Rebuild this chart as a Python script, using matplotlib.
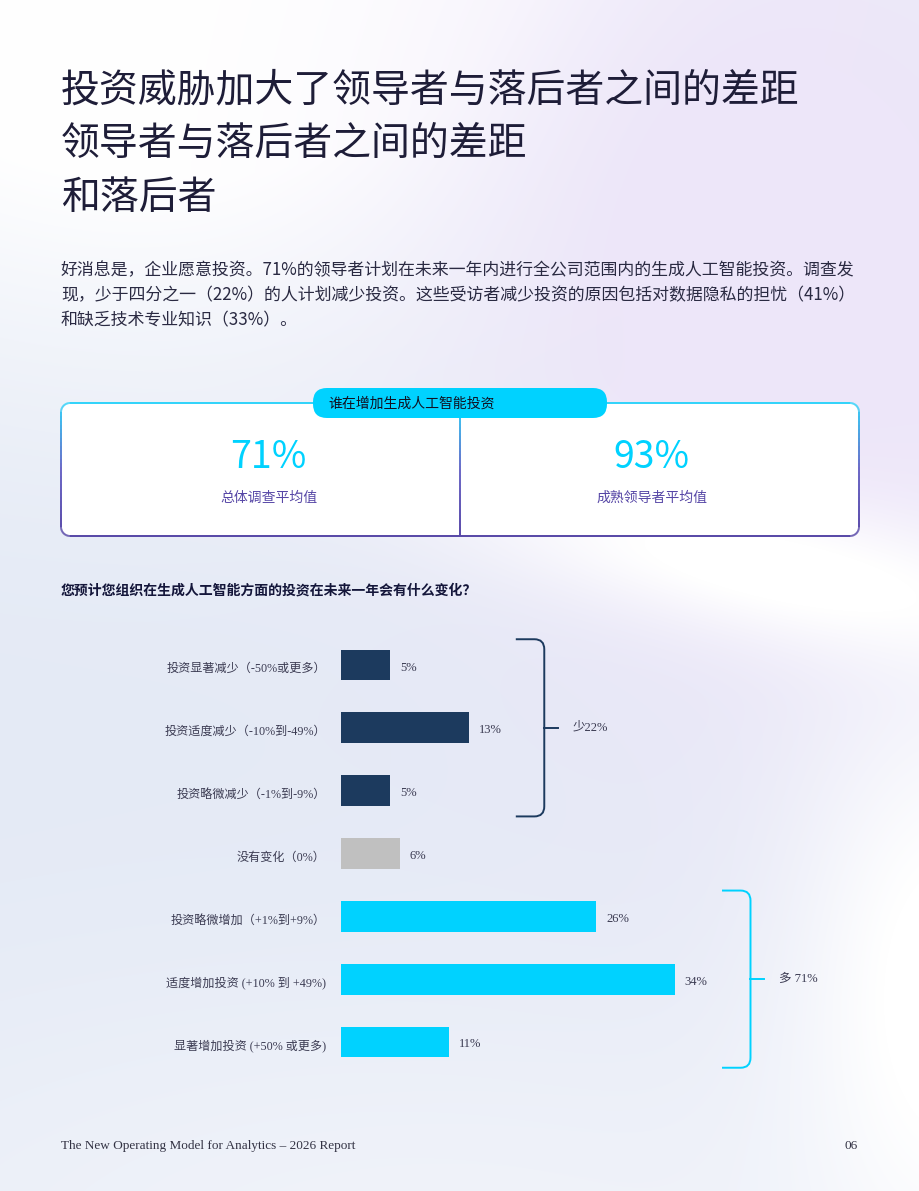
import numpy as np
import matplotlib.pyplot as plt
from matplotlib.patches import FancyBboxPatch, PathPatch
from matplotlib.path import Path
from matplotlib.collections import LineCollection
from matplotlib.colors import to_rgb, LinearSegmentedColormap

plt.rcParams['font.family'] = ['Liberation Serif', 'Noto Sans CJK SC', 'DejaVu Sans']
CJK = ['Noto Sans CJK SC', 'DejaVu Sans']

# ==========================================
# DATA
# ==========================================
TITLE_LINES = ["投资威胁加大了领导者与落后者之间的差距", "领导者与落后者之间的差距", "和落后者"]
BODY_LINES = [
    "好消息是，企业愿意投资。71%的领导者计划在未来一年内进行全公司范围内的生成人工智能投资。调查发",
    "现，少于四分之一（22%）的人计划减少投资。这些受访者减少投资的原因包括对数据隐私的担忧（41%）",
    "和缺乏技术专业知识（33%）。",
]
CARD_TITLE = "谁在增加生成人工智能投资"
CARD_VALUES = ["71%", "93%"]
CARD_LABELS = ["总体调查平均值", "成熟领导者平均值"]

QUESTION = "您预计您组织在生成人工智能方面的投资在未来一年会有什么变化？"
categories = [
    "投资显著减少（-50%或更多）",
    "投资适度减少（-10%到-49%）",
    "投资略微减少（-1%到-9%）",
    "没有变化（0%）",
    "投资略微增加（+1%到+9%）",
    "适度增加投资 (+10% 到 +49%)",
    "显著增加投资 (+50% 或更多)",
]
values = [5, 13, 5, 6, 26, 34, 11]
groups = ["down", "down", "down", "none", "up", "up", "up"]
bracket_labels = {"down": "少22%", "up": "多 71%"}

FOOTER = "The New Operating Model for Analytics – 2026 Report"
PAGE_NO = "06"

# ==========================================
# COLOURS
# ==========================================
NAVY = "#1c3a5e"
GREY = "#c0c0c0"
CYAN = "#00d2ff"
PURPLE = "#5646a6"
TEXT = "#1e1d38"
LABEL = "#3b3b52"
group_colors = {"down": NAVY, "none": GREY, "up": CYAN}

W, H = 920, 1191
fig = plt.figure(figsize=(W / 100, H / 100), dpi=100)

# page axes in pixel coordinates
page = fig.add_axes([0, 0, 1, 1])
page.set_xlim(0, W)
page.set_ylim(H, 0)
page.axis("off")

# soft gradient background
X, Y = np.meshgrid(np.arange(W), np.arange(H))


def blob(cx, cy, sx, sy, angle=0.0):
    a = np.deg2rad(angle)
    u = (X - cx) * np.cos(a) + (Y - cy) * np.sin(a)
    v = -(X - cx) * np.sin(a) + (Y - cy) * np.cos(a)
    return np.exp(-((u / sx) ** 2 + (v / sy) ** 2) / 2)


bg = np.ones((H, W, 3)) * np.array(to_rgb("#e3e9f5"))


def mix(col, w):
    global bg
    w = np.clip(w, 0, 1)[..., None]
    bg = bg * (1 - w) + np.array(to_rgb(col)) * w


mix("#f0f3fa", blob(450, 1250, 600, 220))
mix("#ffffff", 1.4 * blob(180, -60, 420, 290))
mix("#ede6f9", 1.3 * blob(790, 300, 230, 330))
mix("#ffffff", 1.2 * blob(780, 570, 230, 50, 12))
mix("#ffffff", 1.2 * blob(950, 1000, 110, 220))
page.imshow(bg, extent=[0, W, H, 0], zorder=0, aspect="auto")

# title and intro text
for i, line in enumerate(TITLE_LINES):
    page.text(61, 90 + i * 54, line, fontsize=28, color=TEXT, family=CJK,
              fontweight="light", va="center", ha="left", zorder=2)
for i, line in enumerate(BODY_LINES):
    page.text(61, 270 + i * 25, line, fontsize=12.2, color="#2a2a42", family=CJK,
              fontweight="light", va="center", ha="left", zorder=2)

# card with gradient border
cx0, cy0, cx1, cy1, rad = 61, 403, 859, 536, 9
page.add_patch(FancyBboxPatch((cx0, cy0), cx1 - cx0, cy1 - cy0,
                              boxstyle=f"round,pad=0,rounding_size={rad}",
                              facecolor="white", edgecolor="none", zorder=2))


def rounded_rect_pts(x0, y0, x1, y1, r, n=20):
    pts = []
    corners = [(x1 - r, y0 + r, -90, 0), (x1 - r, y1 - r, 0, 90),
               (x0 + r, y1 - r, 90, 180), (x0 + r, y0 + r, 180, 270)]
    for ccx, ccy, a0, a1 in corners:
        t = np.deg2rad(np.linspace(a0, a1, n))
        pts += list(zip(ccx + r * np.cos(t), ccy + r * np.sin(t)))
    pts.append(pts[0])
    return np.array(pts)


grad = LinearSegmentedColormap.from_list("card", ["#2fd3fa", "#6a66c6", PURPLE])
pts = rounded_rect_pts(cx0, cy0, cx1, cy1, rad)
dense = []
for p, q in zip(pts[:-1], pts[1:]):
    k = max(2, int(np.hypot(*(q - p)) / 4))
    for t in np.linspace(0, 1, k)[:-1]:
        dense.append(p + (q - p) * t)
dense.append(pts[-1])
dense = np.array(dense)
segs = np.stack([dense[:-1], dense[1:]], axis=1)
cols = grad((segs[:, :, 1].mean(axis=1) - cy0) / (cy1 - cy0))
page.add_collection(LineCollection(segs, colors=cols, linewidths=1.4, zorder=3))

mid = (cx0 + cx1) / 2
ys = np.linspace(cy0 + 15, cy1, 40)
dseg = [[(mid, a), (mid, b)] for a, b in zip(ys[:-1], ys[1:])]
page.add_collection(LineCollection(dseg, colors=grad((ys[:-1] - cy0) / (cy1 - cy0)),
                                   linewidths=1.4, zorder=3))

page.add_patch(FancyBboxPatch((313, 388), 294, 30,
                              boxstyle="round,pad=0,rounding_size=14",
                              facecolor=CYAN, edgecolor="none", zorder=4))
page.text(328, 404, CARD_TITLE, fontsize=10, color="#111122", family=CJK,
          va="center", ha="left", zorder=5)

for i, (val, lab) in enumerate(zip(CARD_VALUES, CARD_LABELS)):
    # each half's centre, nudged towards the divider like the original
    xc = (cx0 + mid) / 2 + 8 if i == 0 else (mid + cx1) / 2 - 8
    page.text(xc, 458, val, fontsize=27, color=CYAN, family=CJK,
              fontweight="light", va="center", ha="center", zorder=5)
    page.text(xc, 498, lab, fontsize=10, color=PURPLE, family=CJK,
              fontweight="light", va="center", ha="center", zorder=5)

page.text(61, 591, QUESTION, fontsize=10, color="#14163a", family=CJK,
          fontweight="bold", va="center", ha="left", zorder=2)

page.text(61, 1146, FOOTER, fontsize=9.5, color="#333344", va="center", ha="left", zorder=2)
page.text(858, 1146, PAGE_NO, fontsize=9.5, color="#333344", va="center", ha="right", zorder=2)

# ==========================================
# BAR CHART
# ==========================================
px_per_unit = 9.82
row_px = 62.83
ax_left, ax_top = 341, 665 - row_px
ax_w, ax_h = 55 * px_per_unit, 8 * row_px
ax = fig.add_axes([ax_left / W, 1 - (ax_top + ax_h) / H, ax_w / W, ax_h / H])
ax.set_facecolor("none")
ax.set_xlim(0, 55)
ax.set_ylim(7, -1)

pos = np.arange(len(values))
ax.barh(pos, values, height=0.49, color=[group_colors[g] for g in groups],
        edgecolor="none", zorder=3)
for p, v in zip(pos, values):
    ax.text(v + 1.0, p + 0.04, f"{v}%", fontsize=9, color=LABEL, va="center", ha="left")

ax.set_yticks(pos + 0.04)
ax.set_yticklabels(categories, fontsize=8.7, color=LABEL)
ax.tick_params(axis="y", length=0, pad=11)
ax.set_xticks([])
for s in ax.spines.values():
    s.set_visible(False)


def bracket(ax, y0, y1, xs, xb, col, label):
    rx, ry = 1.0, 0.16
    ym = (y0 + y1) / 2
    verts = [(xs, y0), (xb - rx, y0), (xb, y0), (xb, y0 + ry), (xb, y1 - ry),
             (xb, y1), (xb - rx, y1), (xs, y1)]
    codes = [Path.MOVETO, Path.LINETO, Path.CURVE3, Path.CURVE3, Path.LINETO,
             Path.CURVE3, Path.CURVE3, Path.LINETO]
    ax.add_patch(PathPatch(Path(verts, codes), facecolor="none", edgecolor=col,
                           linewidth=1.4, zorder=3))
    ax.plot([xb, xb + 1.4], [ym, ym], color=col, linewidth=1.4, zorder=3)
    ax.text(xb + 2.9, ym, label, fontsize=9, color=LABEL, va="center", ha="left")


for g, col in [("down", NAVY), ("up", CYAN)]:
    idx = [i for i, gg in enumerate(groups) if gg == g]
    vmax = max(values[i] for i in idx)
    bracket(ax, pos[idx[0]] - 0.41, pos[idx[-1]] + 0.41, vmax + 4.8, vmax + 7.7,
            col, bracket_labels[g])

fig.savefig("out.png", dpi=100)
